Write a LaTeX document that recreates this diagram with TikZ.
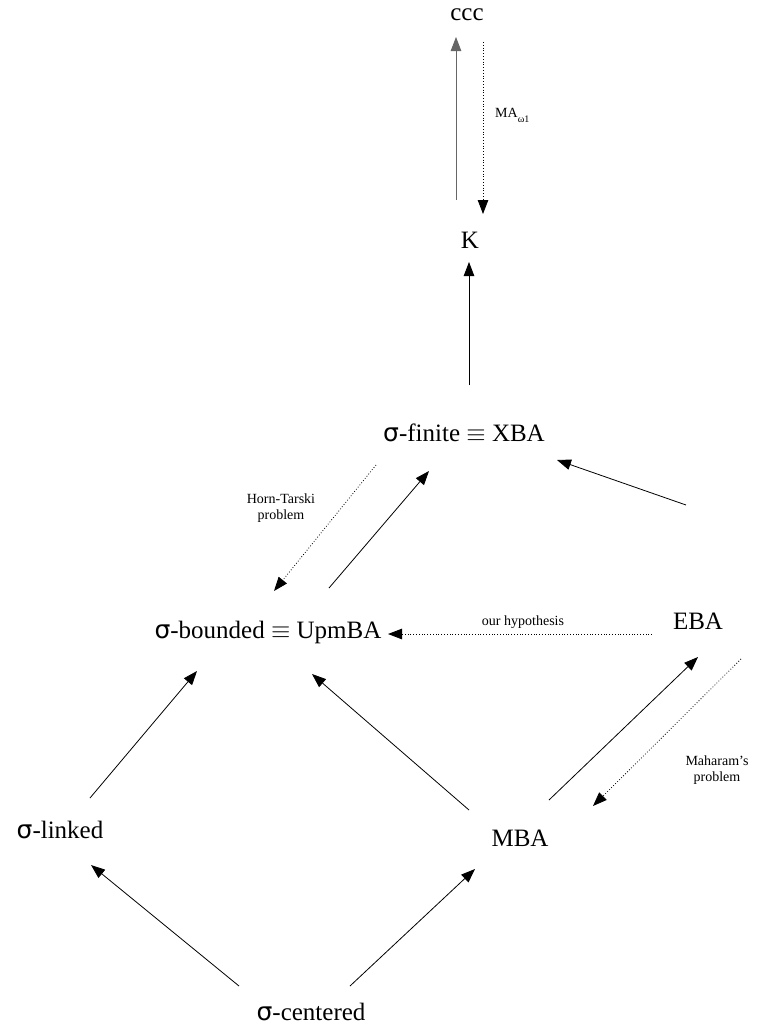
\documentclass[tikz,border=0pt]{standalone}
\usepackage{fontspec}
\setmainfont{Liberation Serif}
\newfontfamily\sigfont{DejaVu Sans}
\usetikzlibrary{arrows.meta}
\begin{document}
\begin{tikzpicture}[x=1pt,y=-1pt,
  lbl/.style={font=\fontsize{25}{30}\selectfont, inner sep=0pt},
  small/.style={font=\fontsize{14}{16}\selectfont, inner sep=0pt, align=center},
  imp/.style={-{Triangle[length=14pt,width=10.5pt]}, line width=0.8pt},
  dimp/.style={-{Triangle[length=14pt,width=10.5pt]}, line width=0.8pt, dotted}]
\useasboundingbox (0,0) rectangle (761,1028);
\newcommand{\sg}{{\sigfont σ}}
% nodes
\node[lbl] (ccc) at (467,15) {ccc};
\node[lbl] (K) at (470,240) {K};
\node[lbl] (XBA) at (464,433) {\sg-finite $\equiv$ XBA};
\node[lbl] (UBA) at (268,632) {\sg-bounded $\equiv$ UpmBA};
\node[lbl] (EBA) at (698,621) {EBA};
\node[lbl] (lnk) at (60,830) {\sg-linked};
\node[lbl] (MBA) at (520,838) {MBA};
\node[lbl] (cen) at (311,1012) {\sg-centered};
% labels
\node[small, anchor=west] (ma) at (495,115) {MA\raisebox{-5pt}{\fontsize{10}{10}\selectfont ω1}};
\node[small] (ht) at (281,508) {Horn-Tarski\\problem};
\node[small] (hyp) at (523,622) {our hypothesis};
\node[small] (mp) at (717,770) {Maharam's\\problem};
% connector end points
\coordinate (a1) at (456,200); \coordinate (b1) at (456,37);
\coordinate (a2) at (483,42);  \coordinate (b2) at (483,214);
\coordinate (a3) at (469,385); \coordinate (b3) at (469,262);
\coordinate (a4) at (376,465); \coordinate (b4) at (274,591);
\coordinate (a5) at (329,588); \coordinate (b5) at (429,471);
\coordinate (a6) at (686,505); \coordinate (b6) at (557,460);
\coordinate (a7) at (652,634); \coordinate (b7) at (388,634);
\coordinate (a8) at (90,798);  \coordinate (b8) at (197,671);
\coordinate (a9) at (469,810); \coordinate (b9) at (312,674);
\coordinate (a10) at (549,800); \coordinate (b10) at (698,657);
\coordinate (a11) at (741,659); \coordinate (b11) at (593,806);
\coordinate (a12) at (239,986); \coordinate (b12) at (91,865);
\coordinate (a13) at (350,986); \coordinate (b13) at (475,869);
% connectors
\draw[imp, draw=black!60] (a1) -- (b1);
\draw[dimp] (a2) -- (b2);
\draw[imp] (a3) -- (b3);
\draw[dimp] (a4) -- (b4);
\draw[imp] (a5) -- (b5);
\draw[imp] (a6) -- (b6);
\draw[dimp] (a7) -- (b7);
\draw[imp] (a8) -- (b8);
\draw[imp] (a9) -- (b9);
\draw[imp] (a10) -- (b10);
\draw[dimp] (a11) -- (b11);
\draw[imp] (a12) -- (b12);
\draw[imp] (a13) -- (b13);
\end{tikzpicture}
\end{document}
